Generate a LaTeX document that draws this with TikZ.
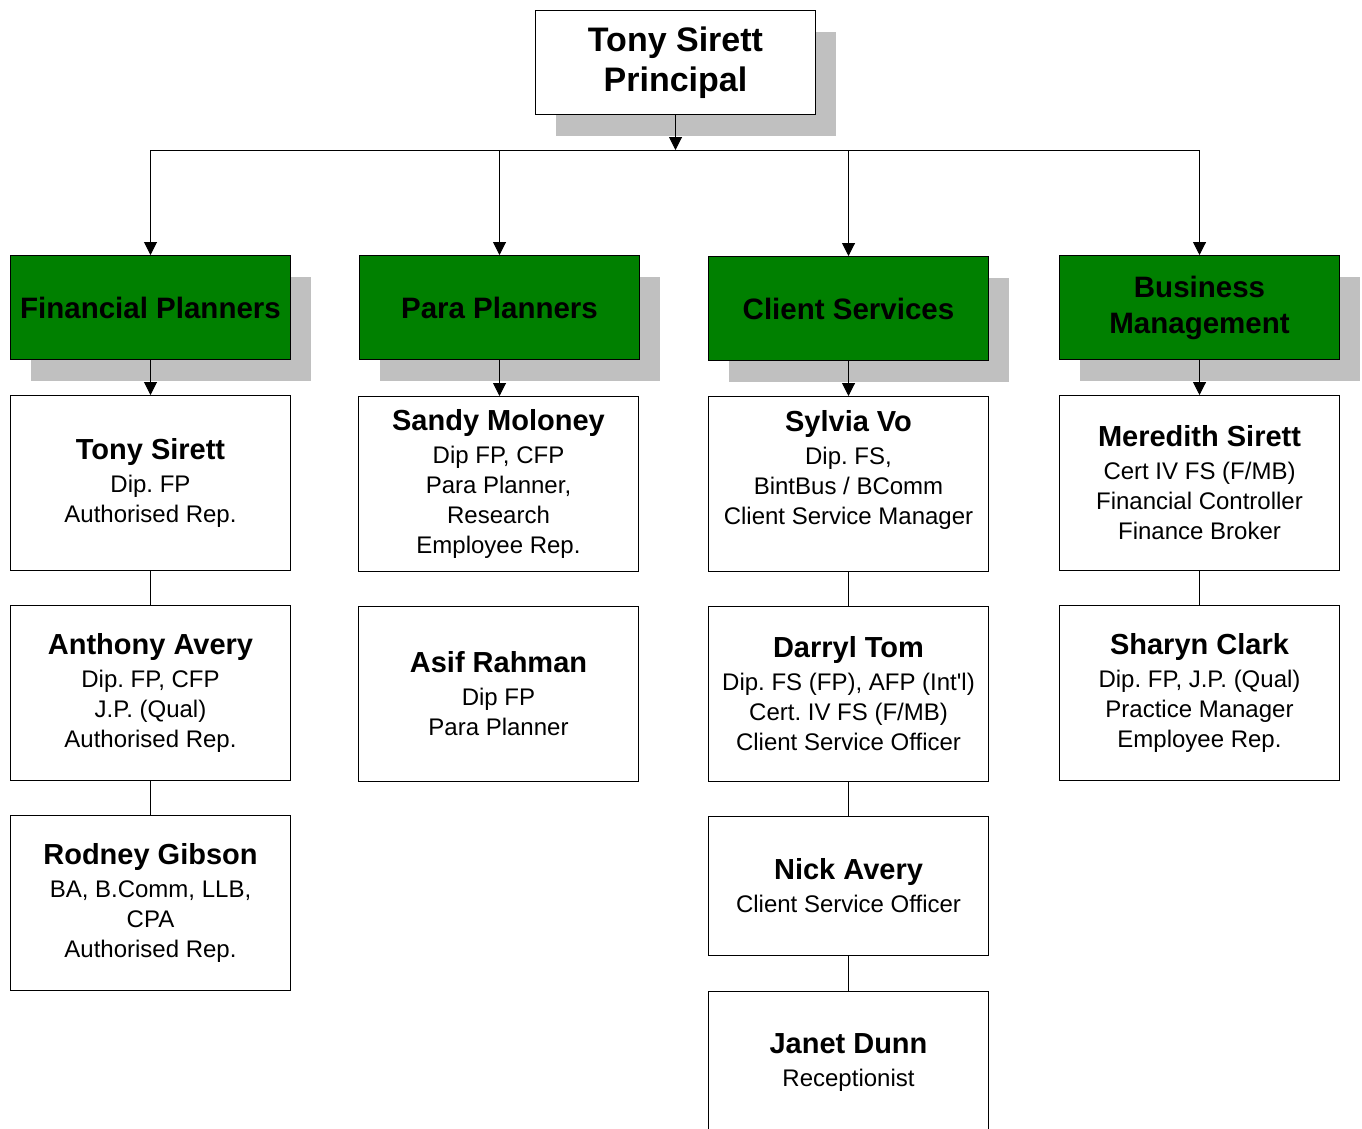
\documentclass[tikz,border=0pt]{standalone}
\usepackage{fontspec}
\setmainfont{Liberation Sans}
\usetikzlibrary{arrows.meta,shadows}
\definecolor{hdgreen}{RGB}{0,128,0}
\definecolor{shgrey}{RGB}{192,192,192}
\newcommand\pname[1]{{\fontsize{29}{30}\selectfont\bfseries #1}\\[3pt]}
\frenchspacing
\begin{document}
\begin{tikzpicture}[x=1pt,y=-1pt,
  box/.style={draw=black, line width=1pt, fill=white, anchor=north west,
    minimum width=280pt, minimum height=175pt, align=center, inner sep=0pt,
    font=\fontsize{24}{30}\selectfont},
  txt/.style={align=center, inner sep=0pt, font=\fontsize{24}{30}\selectfont},
  shbox/.style={drop shadow={shadow xshift=20pt,shadow yshift=-21pt,fill=shgrey,opacity=1}},
  head/.style={box, fill=hdgreen, minimum height=104pt, shbox,
    font=\fontsize{29.5}{36}\selectfont\bfseries},
  topbox/.style={box, minimum height=104pt, shbox,
    font=\fontsize{34}{40}\selectfont\bfseries},
  arr/.style={line width=1pt, -{Triangle[width=13pt,length=13pt]}},
  link/.style={line width=1pt}]
\useasboundingbox (0,0) rectangle (1362,1128);

% top
\node[topbox] (top) at (535,10) {Tony Sirett\\Principal};

% headers
\node[head] (fp) at (10,255) {Financial Planners};
\node[head] (pp) at (359,255) {Para Planners};
\node[head] (cs) at (708,256) {Client Services};
\node[head] (bm) at (1059,255) {Business\\Management};

% column 1
\node[box] (ts) at (10,395) {\pname{Tony Sirett}Dip. FP\\Authorised Rep.};
\node[box] (aa) at (10,605) {\pname{Anthony Avery}Dip. FP, CFP\\J.P. (Qual)\\Authorised Rep.};
\node[box] (rg) at (10,815) {\pname{Rodney Gibson}BA, B.Comm, LLB,\\CPA\\Authorised Rep.};

% column 2
\node[box] (sm) at (358,396) {\pname{Sandy Moloney}Dip FP, CFP\\Para Planner,\\Research\\Employee Rep.};
\node[box] (ar) at (358,606) {\pname{Asif Rahman}Dip FP\\Para Planner};

% column 3
\node[box] (sv) at (708,396) {};
\node[txt] (svt) at ([yshift=14pt]sv.center) {\pname{Sylvia Vo}Dip. FS,\\BintBus / BComm\\Client Service Manager};
\node[box] (dt) at (708,606) {\pname{Darryl Tom}Dip. FS (FP), AFP (Int\textquotesingle l)\\Cert. IV FS (F/MB)\\Client Service Officer};
\node[box, minimum height=139pt] (na) at (708,816) {\pname{Nick Avery}Client Service Officer};
\node[box, minimum height=142pt] (jd) at (708,991) {\pname{Janet Dunn}Receptionist};

% column 4
\node[box] (ms) at (1059,395) {\pname{Meredith Sirett}Cert IV FS (F/MB)\\Financial Controller\\Finance Broker};
\node[box] (sc) at (1059,605) {\pname{Sharyn Clark}Dip. FP, J.P. (Qual)\\Practice Manager\\Employee Rep.};

% connectors
\coordinate (busL) at (150,150);
\coordinate (busR) at (1199,150);
\draw[link] (busL) -- (busR);
\draw[arr] (top.south) -- (top.south |- busL);
\foreach \h in {fp,pp,cs,bm} \draw[arr] (\h.north |- busL) -- (\h.north);

\draw[arr] (fp.south) -- (fp.south |- ts.north);
\draw[arr] (pp.south) -- (pp.south |- sm.north);
\draw[arr] (cs.south) -- (cs.south |- sv.north);
\draw[arr] (bm.south) -- (bm.south |- ms.north);

\draw[link] (ts.south) -- (aa.north);
\draw[link] (aa.south) -- (rg.north);
\draw[link] (sv.south) -- (dt.north);
\draw[link] (dt.south) -- (na.north);
\draw[link] (na.south) -- (jd.north);
\draw[link] (ms.south) -- (sc.north);
\end{tikzpicture}
\end{document}
